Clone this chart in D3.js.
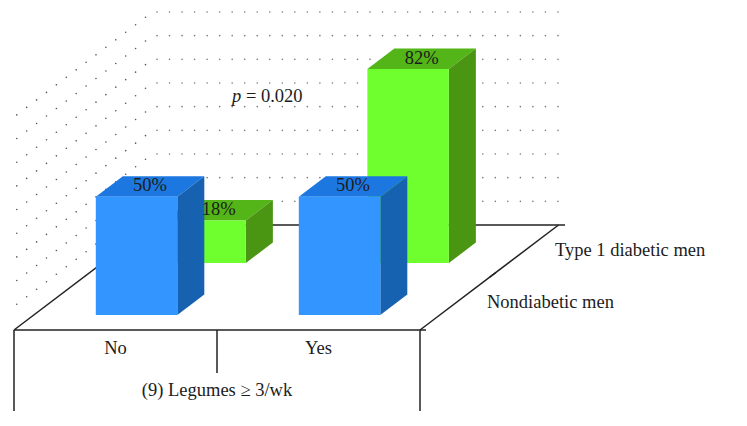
<!DOCTYPE html>
<html lang="en">
<head>
    <meta charset="UTF-8">
    <title>Legumes 3D bars</title>
    <script src="https://d3js.org/d3.v7.min.js"></script>
    <style>
        body, html {
            margin: 0;
            padding: 0;
            overflow: hidden;
            background: #fff;
        }
        svg {
            display: block;
        }
        text {
            font-family: "Liberation Serif", serif;
            font-size: 18.5px;
            fill: #1c1c1c;
        }
        .axis {
            stroke: #222;
            stroke-width: 1.5px;
            fill: none;
        }
    </style>
</head>
<body>
<svg width="747" height="426"></svg>

<script>
    const categories = ['No', 'Yes'];
    const seriesNames = ['Nondiabetic men', 'Type 1 diabetic men'];
    const nondiabetic = [50, 50];
    const diabetic = [18, 82];
    const gridValues = [10, 20, 30, 40, 50, 60, 70, 80, 90];
    const axisTitle = '(9) Legumes \u2265 3/wk';

    const svg = d3.select('svg');

    // floor is a parallelogram: front edge + a depth vector going up-right
    const front = { left: 14, right: 420, y: 330 };
    const depthVec = { x: 138.5, y: -105 };
    const barWidth = 81.5;
    const barDepth = 0.195;

    const x = d3.scaleBand().domain(categories).range([front.left, front.right]);
    const h = d3.scaleLinear().domain([0, 90]).range([0, 213]);
    // where each series sits, 0 = front edge, 1 = back edge
    const depth = d3.scalePoint().domain(seriesNames).range([0.143, 0.638]);

    function project(px, d, value) {
        return [px + d * depthVec.x, front.y + d * depthVec.y - h(value)];
    }

    function poly(points, fill) {
        svg.append('polygon')
            .attr('points', points.map(p => p.join(',')).join(' '))
            .attr('fill', fill);
    }

    // dotted walls
    const backDots = d3.range(0, 33).map(i => 157 + i * 12.53);
    const sideDots = d3.range(0, 14).map(i => 0.02 + i * 0.0715);

    const dots = svg.append('g');
    gridValues.forEach(v => {
        backDots.forEach(px => {
            const p = project(px - depthVec.x, 1, v);
            dots.append('circle').attr('cx', p[0]).attr('cy', p[1]).attr('r', 0.8).attr('fill', '#777');
        });
        sideDots.forEach(d => {
            const p = project(front.left, d, v);
            dots.append('circle').attr('cx', p[0]).attr('cy', p[1]).attr('r', 0.8).attr('fill', '#555');
        });
    });

    // floor and axis lines
    const axisLines = [
        [[front.left, front.y], [front.right + 6, front.y]],
        [[front.left, front.y], project(front.left, 1, 0)],
        [project(front.left, 1, 0), [565, front.y + depthVec.y]],
        [[front.right, front.y], project(front.right, 1, 0)],
        [[front.left, front.y], [front.left, 411]],
        [[front.right, front.y], [front.right, 411]],
        [[x('Yes'), front.y], [x('Yes'), 373]],
        [project(front.right, 0.5, 0), [496, front.y + 0.5 * depthVec.y - 5]]
    ];
    svg.append('g').selectAll('line')
        .data(axisLines)
        .enter().append('line')
        .attr('class', 'axis')
        .attr('x1', d => d[0][0])
        .attr('y1', d => d[0][1])
        .attr('x2', d => d[1][0])
        .attr('y2', d => d[1][1]);

    function drawBar(cat, name, value, colors) {
        const d = depth(name);
        const left = x(cat) + 62;
        const right = left + barWidth;
        const a = project(left, d, value);
        const b = project(right, d, value);
        const c = project(right, d, 0);
        const e = project(left, d, 0);
        const a2 = project(left, d + barDepth, value);
        const b2 = project(right, d + barDepth, value);
        const c2 = project(right, d + barDepth, 0);
        poly([a, b, b2, a2], colors.top);
        poly([b, b2, c2, c], colors.side);
        poly([a, b, c, e], colors.front);
    }

    const blue = { front: '#3395ff', top: '#1c78e0', side: '#1762b0' };
    const green = { front: '#6fff2e', top: '#53b517', side: '#4a9612' };

    // back row first so the front row covers it
    categories.forEach((cat, i) => drawBar(cat, seriesNames[1], diabetic[i], green));
    categories.forEach((cat, i) => drawBar(cat, seriesNames[0], nondiabetic[i], blue));

    // value labels
    categories.forEach((cat, i) => {
        [[seriesNames[1], diabetic[i]], [seriesNames[0], nondiabetic[i]]].forEach(s => {
            const p = project(x(cat) + 62 + barWidth / 2, depth(s[0]) + barDepth / 2, s[1]);
            svg.append('text')
                .attr('x', p[0])
                .attr('y', p[1] + 5)
                .attr('text-anchor', 'middle')
                .text(s[1] + '%');
        });
    });

    // category labels
    categories.forEach(cat => {
        svg.append('text')
            .attr('x', x(cat) + x.bandwidth() / 2)
            .attr('y', 354)
            .attr('text-anchor', 'middle')
            .text(cat);
    });

    svg.append('text')
        .attr('x', 217)
        .attr('y', 396)
        .attr('text-anchor', 'middle')
        .text(axisTitle);

    svg.append('text').attr('x', 487).attr('y', 308).text(seriesNames[0]);
    svg.append('text').attr('x', 555).attr('y', 256).text(seriesNames[1]);

    const pText = svg.append('text').attr('x', 232).attr('y', 102);
    pText.append('tspan').attr('font-style', 'italic').text('p');
    pText.append('tspan').text(' = 0.020');
</script>
</body>
</html>
